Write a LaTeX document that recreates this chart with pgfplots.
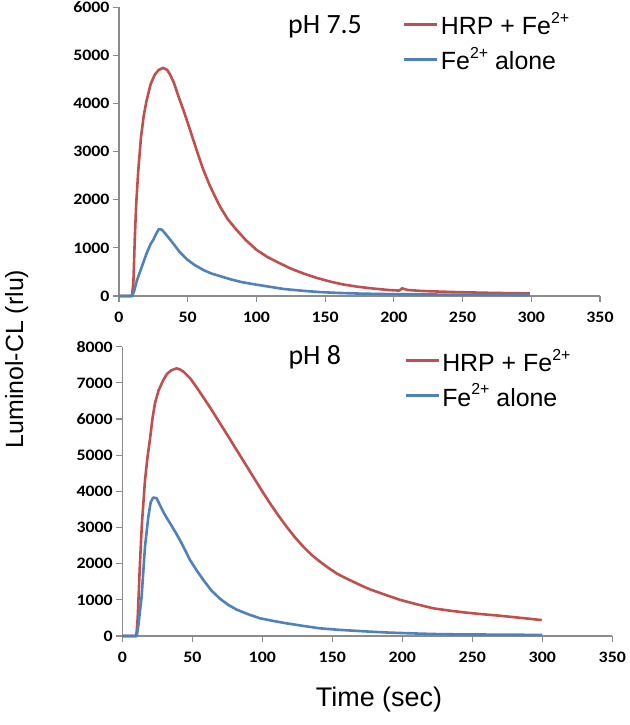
\documentclass[border=0pt]{standalone}
\usepackage{graphicx}
\usepackage{fontspec}
\setmainfont{Liberation Sans}
\newfontfamily\calfont{Carlito}
\usepackage{pgfplots}
\pgfplotsset{compat=1.18}
\definecolor{cred}{HTML}{C0504D}
\definecolor{cblue}{HTML}{4F81BD}
\definecolor{axgray}{HTML}{8C8C8C}
\newcommand{\mysup}[1]{\raisebox{0.45em}{\fontsize{16}{16}\selectfont #1}}
\pgfplotsset{
  myaxis/.style={
    scale only axis,
    axis lines=left,
    axis line style={-, draw=axgray, line width=1.2bp},
    xmin=0, xmax=350, ymin=0,
    xtick={0,50,...,350},
    tick align=outside,
    major tick length=6bp,
    tick style={draw=axgray, line width=1.2bp},
    scaled ticks=false,
    clip=false,
    /pgf/number format/1000 sep={},
    /pgf/number format/assume math mode=true,
    ticklabel style={font=\calfont\bfseries\fontsize{16}{16}\selectfont},
    xticklabel style={yshift=-7bp},
    xticklabel={\scalebox{1.12}[1]{\pgfmathprintnumber{\tick}}},
    yticklabel={\scalebox{1.12}[1]{\pgfmathprintnumber{\tick}}},
    legend cell align=left,
    legend image code/.code={\draw[##1, line width=3bp] (0bp,0bp) -- (33bp,0bp);},
    every axis plot/.append style={line width=2.6bp, line join=round},
  }
}
\begin{document}
\begin{tikzpicture}
\path[use as bounding box] (0bp,0bp) rectangle (630bp,725bp);
% ---------- top: pH 7.5 ----------
\begin{axis}[myaxis,
  at={(119bp,429bp)}, anchor=origin,
  width=481bp, height=288.7bp,
  ymax=6000, ytick={0,1000,...,6000},
  legend style={at={(axis description cs:0.59,0.99)}, anchor=north west,
    draw=none, fill=none, font=\fontsize{25}{25}\selectfont,
    row sep=7bp, inner sep=0pt, nodes={inner sep=2bp}},
]
\addplot[cred] coordinates {
(0,0) (9.5,0) (10.5,300) (11.5,1200) (12.5,1900) (14,2600) (16,3300)
(18,3750) (20,4050) (23,4400) (26,4600) (29,4700) (32,4740) (35,4700)
(37,4610) (40,4430) (43,4170) (46.8,3870) (50,3600) (54,3250) (58,2900)
(61.4,2620) (66,2300) (70,2060) (73.5,1860) (79,1600) (85.7,1370)
(92,1170) (100,960) (108,810) (117,680) (125,570) (134,470) (144,375)
(153.6,300) (163,240) (173,195) (185,155) (196,125) (204,112) (206,160)
(210,125) (220,105) (230,95) (240,85) (253,76) (265,68) (277,62) (290,57)
(299,52)};
\addlegendentry{HRP + Fe\mysup{2+}}
\addplot[cblue] coordinates {
(0,0) (9.5,0) (11,100) (13,320) (15,480) (18,720) (20,880) (23,1080)
(25,1170) (27,1290) (29,1390) (31,1380) (33,1320) (35,1250) (37,1180)
(40,1070) (44,920) (49.5,760) (55,645) (61.4,540) (67,470) (75,400)
(82,340) (89,290) (98,245) (110,190) (120,145) (135,105) (146,82)
(158,65) (175,50) (194,40) (220,32) (260,25) (299,20)};
\addlegendentry{Fe\mysup{2+} alone}
\end{axis}
% ---------- bottom: pH 8 ----------
\begin{axis}[myaxis,
  at={(122.3bp,89bp)}, anchor=origin,
  width=490bp, height=289.3bp,
  ymax=8000, ytick={0,1000,...,8000},
  legend style={at={(axis description cs:0.575,1.0)}, anchor=north west,
    draw=none, fill=none, font=\fontsize{25}{25}\selectfont,
    row sep=7bp, inner sep=0pt, nodes={inner sep=2bp}},
]
\addplot[cred] coordinates {
(0,0) (10,0) (11,500) (12.6,2000) (14,3100) (16.2,4300) (18,4950)
(19.8,5450) (21.5,6000) (23.4,6450) (26,6800) (29.3,7080) (32,7250)
(35,7350) (38.8,7400) (41.2,7370) (44,7300) (48.4,7130) (53,6880)
(57.9,6600) (64,6240) (69.8,5880) (76,5500) (81.7,5140) (87.5,4780)
(93.6,4400) (99.5,4030) (105.5,3670) (111.5,3330) (117.4,3020)
(123.3,2730) (129.3,2470) (135,2250) (141.2,2055) (147,1890) (153.1,1730)
(159,1610) (165,1500) (171,1390) (176.9,1290) (190,1110) (198.4,1000)
(210,880) (222.2,765) (234,700) (246,645) (258,600) (269.8,560) (285,500)
(299.6,440)};
\addlegendentry{HRP + Fe\mysup{2+}}
\addplot[cblue] coordinates {
(0,0) (10.3,0) (11.5,300) (13.8,1090) (16.2,2470) (18.6,3300) (20.3,3700)
(22,3830) (24.5,3810) (26.5,3650) (29.3,3430) (32,3250) (34.1,3120)
(37.5,2900) (41.2,2650) (44.8,2380) (48.4,2100) (53,1820) (57.9,1550)
(63.8,1250) (69.8,1030) (75.7,860) (81.7,730) (90,600) (98.3,490)
(108,415) (117.4,350) (129,280) (141.2,212) (155,170) (176.9,120)
(190,95) (205,75) (222,55) (240,45) (260,40) (280,35) (300,30)};
\addlegendentry{Fe\mysup{2+} alone}
\end{axis}
% ---------- texts ----------
\node[anchor=base west, inner sep=0pt, font=\calfont\fontsize{28}{28}\selectfont] at (288bp,691.7bp) {pH 7.5};
\node[anchor=base west, inner sep=0pt, font=\calfont\fontsize{28}{28}\selectfont] at (288.3bp,360bp) {pH 8};
\node[rotate=90, anchor=base, inner sep=0pt, font=\fontsize{25}{25}\selectfont] at (23bp,366bp) {Luminol-CL (rlu)};
\node[anchor=base, inner sep=0pt, font=\fontsize{27}{27}\selectfont] at (379bp,18.3bp) {Time (sec)};
\end{tikzpicture}
\end{document}
